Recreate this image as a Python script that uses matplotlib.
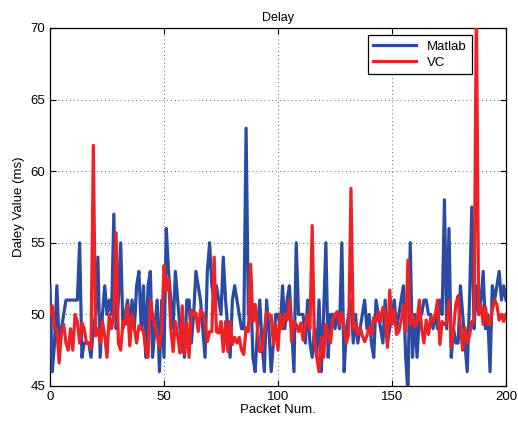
import numpy as np
import matplotlib
matplotlib.use("Agg")
import matplotlib.pyplot as plt

plt.rcParams['font.family'] = ['Liberation Sans', 'DejaVu Sans']

packets = list(range(201))

matlab = [
    52, 46, 48, 52, 48, 49, 50, 51, 51, 51,
    51, 51, 51, 55, 47, 48, 48, 48, 47, 49,
    50, 54, 47, 50, 52, 50, 51, 50, 57, 49,
    51, 55, 49, 50, 51, 49, 51, 49, 52, 53,
    49, 52, 47, 52, 53, 47, 49, 51, 46, 51,
    47, 56, 53, 51, 49, 53, 51, 49, 48, 47,
    51, 51, 48, 50, 53, 52, 51, 49, 47, 53,
    55, 52, 51, 52, 51, 50, 54, 51, 49, 47,
    51, 52, 51, 50, 49, 49, 63, 50, 52, 47,
    46, 49, 51, 48, 46, 51, 49, 46, 48, 50,
    50, 49, 52, 49, 51, 52, 49, 46, 55, 50,
    50, 50, 48, 51, 48, 47, 49, 47, 51, 46,
    50, 55, 47, 50, 50, 49, 50, 49, 55, 46,
    49, 50, 51, 48, 50, 48, 49, 50, 51, 49,
    50, 48, 47, 51, 50, 49, 48, 51, 48, 49,
    50, 51, 49, 50, 51, 52, 47, 44.5, 55, 47,
    50, 47, 50, 50, 51, 51, 50, 50, 49, 50,
    49, 51, 50, 58, 49, 56, 47, 49, 48, 48,
    52, 50, 48, 46, 51, 57.5, 49, 52, 50, 51,
    53, 49, 50, 46, 52, 51, 52, 53, 51, 52,
    51,
]

vc = [
    50, 50.6, 49, 49, 46.6, 48.7, 49.3, 48, 47.5, 49,
    47.5, 50, 49.5, 48, 49.4, 49, 48, 48, 47.6, 61.8,
    48.5, 49, 48, 49.5, 48.5, 47, 50, 49, 50, 55.7,
    48, 47.5, 49.5, 49.3, 50.6, 47.8, 50, 49, 48, 49.2,
    49, 48.8, 47.5, 47, 51, 50, 49.3, 48.5, 47.7, 49,
    53.4, 51.7, 52.5, 49, 47.4, 49.5, 48.5, 47.3, 50.6, 47.2,
    49.4, 47, 50.3, 50, 50.1, 48.8, 50.3, 50.1, 49.5, 48.1,
    48.8, 48.8, 54, 48.8, 48.7, 49.5, 47.4, 49.5, 47.4, 49.5,
    47.9, 48.4, 48, 48.4, 47.5, 47.2, 49.1, 48.8, 53.5, 49.5,
    50.7, 49, 47.4, 47.4, 48.8, 50.2, 50, 49.9, 47.9, 49.3,
    47.5, 50, 49, 50, 49.6, 51, 48.1, 49.5, 49.3, 48.8,
    49.4, 48.2, 49.3, 50, 49, 56.2, 48.1, 47, 46, 48.4,
    47, 49.3, 48.5, 48, 49.6, 50, 50.2, 49.3, 50.1, 49,
    48, 48.6, 58.8, 49, 49.4, 48.6, 49.1, 48.5, 48.1, 48.5,
    49.1, 48.6, 49.8, 49.5, 50.2, 49.5, 50.5, 50, 47.7, 51.7,
    49.3, 50.3, 48.6, 48.8, 49.5, 50.6, 48.8, 53.8, 49.3, 50,
    49.1, 49.5, 51, 49, 48, 49.6, 48.6, 49.8, 49.5, 50,
    51, 47.9, 49.5, 49.3, 49.5, 51, 47.7, 49, 50.7, 51.3,
    49.1, 47.5, 49.1, 48, 48.5, 49.5, 49.5, 72, 50, 50.7,
    49.3, 50.5, 49.3, 49.3, 50.3, 51, 50.7, 49.6, 50, 49.5,
    50,
]

xticks = [0, 50, 100, 150, 200]
yticks = [45, 50, 55, 60, 65, 70]

fig = plt.figure(figsize=(5.18, 4.28), dpi=100)
ax = fig.add_axes([50/518, 1-386/428, 456/518, 358/428])

ax.plot(packets, matlab, color='#2B4AA3', lw=2.3, label='Matlab', zorder=3)
ax.plot(packets, vc, color='#EE2224', lw=2.3, label='VC', zorder=4)

ax.set_xlim(0, 200)
ax.set_ylim(45, 70)
ax.set_xticks(xticks)
ax.set_yticks(yticks)
ax.grid(True, linestyle=(0, (1, 3)), color='#666666', linewidth=0.7)
ax.tick_params(direction='in', top=True, right=True, labelsize=9.5, length=4)
for s in ax.spines.values():
    s.set_linewidth(0.9)

ax.set_title('Delay', fontsize=9, pad=5)
ax.set_xlabel('Packet Num.', fontsize=9.5, labelpad=1)
ax.set_ylabel('Daley Value (ms)', fontsize=9.5, labelpad=4)

leg = ax.legend(loc='upper right', bbox_to_anchor=(0.925, 0.98), borderaxespad=0,
                fontsize=9.5, fancybox=False, framealpha=1, edgecolor='black',
                handlelength=3.3, borderpad=0.4, labelspacing=0.3)
leg.get_frame().set_linewidth(0.9)

fig.savefig('out.png', dpi=100)
